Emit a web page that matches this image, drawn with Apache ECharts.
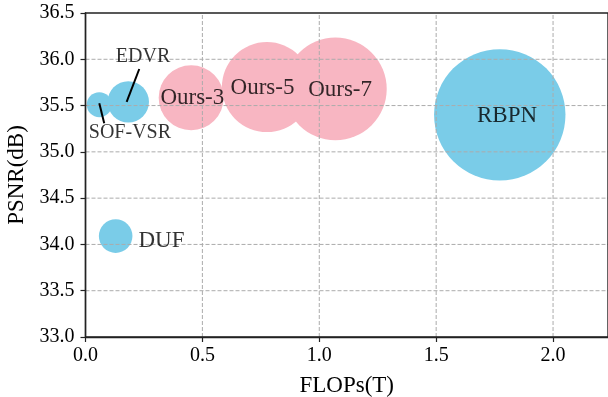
<!DOCTYPE html>
<html><head><meta charset="utf-8">
<script src="https://cdn.jsdelivr.net/npm/echarts@6/dist/echarts.min.js"></script>
<style>html,body{margin:0;padding:0;background:#fff}#c{width:608px;height:397px}</style>
</head><body><div id="c"></div>
<script>
// Other methods
const otherNames = ['SOF-VSR', 'EDVR', 'DUF', 'RBPN'];
const otherFlops = [0.059, 0.183, 0.129, 1.772];
const otherPsnr  = [35.51, 35.54, 34.09, 35.40];
const otherSize  = [625, 1714, 1129, 17266];
// Ours
const oursNames = ['Ours-3', 'Ours-5', 'Ours-7'];
const oursFlops = [0.452, 0.776, 1.069];
const oursPsnr  = [35.584, 35.70, 35.68];
const oursSize  = [4225, 8100, 10527];
// text annotation anchor points (data units)
const labelNames = ['SOF-VSR', 'EDVR', 'DUF', 'RBPN', 'Ours-3', 'Ours-5', 'Ours-7'];
const labelX = [0.190, 0.246, 0.325, 1.803, 0.457, 0.757, 1.089];
const labelY = [35.203, 36.024, 34.042, 35.387, 35.581, 35.689, 35.667];
// pointer lines (data units)
const edvrLineX = [0.230, 0.176], edvrLineY = [35.895, 35.541];
const sofLineX = [0.059, 0.080], sofLineY = [35.524, 35.308];
const xTicks = [0.0, 0.5, 1.0, 1.5, 2.0];
const yTicks = [33.0, 33.5, 34.0, 34.5, 35.0, 35.5, 36.0, 36.5];

const X_MIN = 0, X_MAX = 2.235, Y_MIN = 33.0, Y_MAX = 36.5;
const FONT = "'Liberation Serif','Times New Roman',serif";
const zip = (a, b, c) => a.map((v, i) => c ? [v, b[i], c[i]] : [v, b[i]]);
const chart = echarts.init(document.getElementById('c'), null, {renderer: 'canvas'});
const smallLabels = {'SOF-VSR': 1, 'EDVR': 1};
const gridStyle = {color: '#ababab', type: [4, 2], width: 1};
const gridSeries = xTicks.filter(v => v > X_MIN).map(v => ({
    type: 'line', z: 3, symbol: 'none', silent: true, lineStyle: gridStyle,
    data: [[v, Y_MIN], [v, Y_MAX]]
  })).concat(yTicks.filter(v => v > Y_MIN && v < Y_MAX).map(v => ({
    type: 'line', z: 3, symbol: 'none', silent: true, lineStyle: gridStyle,
    data: [[X_MIN, v], [X_MAX, v]]
  })));
chart.setOption({
  animation: false,
  grid: {left: 85.5, top: 13, right: 0, bottom: 60, containLabel: false, outerBoundsMode: 'none',
    show: true, borderColor: '#222', borderWidth: 1.4, backgroundColor: 'transparent', z: 10},
  xAxis: {
    type: 'value', min: X_MIN, max: X_MAX, interval: 0.5, z: 10,
    name: 'FLOPs(T)', nameLocation: 'middle', nameGap: 37,
    nameTextStyle: {fontFamily: FONT, fontSize: 23, color: '#000'},
    axisLine: {show: true, lineStyle: {color: '#222', width: 1.4}},
    axisTick: {show: true, length: 5, lineStyle: {color: '#222', width: 1.2}},
    axisLabel: {fontFamily: FONT, fontSize: 20, color: '#000', margin: 9, showMaxLabel: false,
      formatter: v => xTicks.some(t => Math.abs(t - v) < 1e-6) ? v.toFixed(1) : ''},
    splitLine: {show: false}
  },
  yAxis: {
    type: 'value', min: Y_MIN, max: Y_MAX, interval: 0.5, z: 10,
    name: 'PSNR(dB)', nameLocation: 'middle', nameGap: 55,
    nameTextStyle: {fontFamily: FONT, fontSize: 23, color: '#000'},
    axisLine: {show: true, lineStyle: {color: '#222', width: 1.4}},
    axisTick: {show: true, length: 5, lineStyle: {color: '#222', width: 1.2}},
    axisLabel: {fontFamily: FONT, fontSize: 20, color: '#000', margin: 11,
      formatter: v => yTicks.some(t => Math.abs(t - v) < 1e-6) ? v.toFixed(1) : ''},
    splitLine: {show: false}
  },
  series: [
    {type: 'scatter', z: 2, data: zip(otherFlops, otherPsnr, otherSize),
     symbolSize: d => Math.sqrt(d[2]), itemStyle: {color: '#7acce8', opacity: 1}},
    {type: 'scatter', z: 2, data: zip(oursFlops, oursPsnr, oursSize),
     symbolSize: d => Math.sqrt(d[2]), itemStyle: {color: '#f8b6c2', opacity: 1}}
  ].concat(gridSeries).concat([
    {type: 'line', z: 6, data: zip(edvrLineX, edvrLineY), symbol: 'none', lineStyle: {color: '#000', width: 2}},
    {type: 'line', z: 6, data: zip(sofLineX, sofLineY), symbol: 'none', lineStyle: {color: '#000', width: 2}},
    {type: 'scatter', z: 5, symbolSize: 0, silent: true,
     data: labelNames.map((n, i) => ({value: [labelX[i], labelY[i]], name: n,
       label: {fontSize: smallLabels[n] ? 20 : 23}})),
     label: {show: true, position: 'inside', formatter: p => p.name, fontFamily: FONT, color: '#000', fontSize: 23}}
  ])
});
</script></body></html>
